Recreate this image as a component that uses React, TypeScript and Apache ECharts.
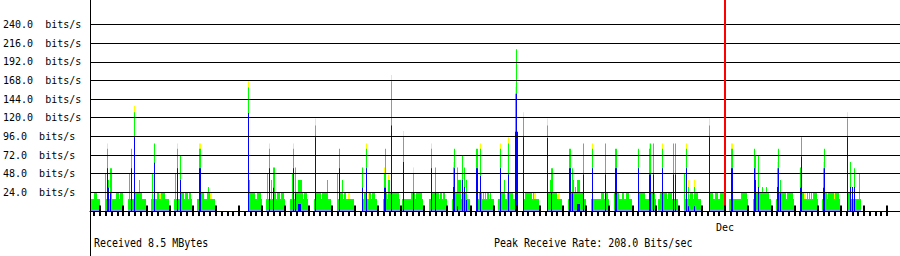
import React, { useEffect, useRef } from 'react';
import * as echarts from 'echarts';

// One sample per pixel column (RRD-style consolidation); sample index runs left to right.
const SAMPLES = 810;
const LOW = 15.4;   // typical low-level receive rate (bits/s)
const HIGH = 23.1;  // typical high-level receive rate (bits/s)
const BASE = 1.3;   // small constant component under active periods

// Periods of low-level activity [fromSample, toSample]
const lowBlocks: [number, number][] = [
  [1, 9], [15, 32], [38, 55], [61, 78], [84, 101], [107, 124], [158, 171], [176, 194],
  [200, 217], [224, 240], [247, 263], [272, 286], [293, 309], [312, 332], [339, 356],
  [362, 379], [386, 403], [408, 426], [434, 448], [457, 471], [478, 495], [501, 518],
  [524, 541], [548, 565], [568, 587], [594, 610], [620, 633], [639, 657], [663, 680],
  [686, 703], [710, 727], [732, 749], [757, 770],
];

// Periods where the rate reaches the high level
const highBlocks: [number, number][] = [
  [4, 6], [26, 28], [30, 32], [45, 51], [67, 68], [71, 74], [91, 93], [95, 97], [99, 100],
  [110, 113], [117, 119], [159, 164], [167, 170], [183, 185], [187, 189], [191, 193],
  [206, 208], [210, 212], [214, 216], [226, 230], [232, 236], [250, 252], [254, 255],
  [274, 276], [279, 280], [282, 284], [294, 296], [300, 308], [321, 324], [326, 331],
  [342, 344], [346, 348], [350, 351], [353, 354], [365, 370], [373, 376], [389, 391],
  [393, 393], [395, 395], [397, 398], [400, 400], [410, 414], [417, 422], [435, 441],
  [443, 443], [458, 466], [479, 486], [489, 493], [511, 513], [515, 517], [524, 528],
  [532, 533], [536, 538], [548, 554], [560, 564], [570, 576], [578, 581], [600, 602],
  [605, 607], [620, 622], [625, 627], [630, 633], [651, 656], [664, 678], [688, 695],
  [697, 702], [711, 713], [717, 717], [719, 719], [721, 721], [723, 726], [733, 736],
  [738, 743], [745, 748], [757, 759],
];

// Short peaks (yellow) reaching the high level above low activity
const yellowCaps: [number, number][] = [
  [4, 5], [69, 70], [120, 121], [258, 259], [278, 278], [444, 445], [468, 469],
  [652, 652], [714, 715], [737, 737], [744, 744],
];

// Spikes: [sample, blue top, green top, yellow top] in bits/s (0 = none)
const spikes: [number, number, number, number][] = [
  [15, 0, 48, 0], [17, 55, 80, 87], [18, 30, 40, 0], [20, 23, 55, 0], [21, 0, 55, 0],
  [39, 0, 48, 0], [41, 55, 80, 0], [44, 95, 127, 135], [49, 0, 40, 0],
  [62, 0, 48, 0], [64, 62, 87, 0],
  [85, 0, 48, 0], [87, 55, 80, 87], [90, 40, 71, 0],
  [109, 55, 80, 87], [110, 55, 80, 87], [118, 0, 31, 0],
  [158, 126, 159, 167], [159, 0, 40, 0],
  [177, 0, 48, 0], [179, 55, 80, 87], [181, 0, 40, 0], [183, 30, 56, 0], [184, 0, 56, 0],
  [202, 0, 48, 0], [203, 55, 80, 87], [205, 23, 56, 0], [208, 9, 40, 0], [209, 9, 40, 0],
  [210, 9, 40, 0], [211, 0, 40, 0],
  [225, 95, 110, 119], [237, 0, 40, 0],
  [247, 0, 48, 0], [249, 55, 80, 0], [252, 0, 40, 0],
  [272, 30, 56, 0], [276, 55, 80, 87],
  [294, 30, 48, 56], [295, 30, 80, 0], [298, 0, 40, 47], [299, 0, 40, 0], [301, 110, 167, 175],
  [313, 63, 95, 103], [323, 23, 48, 56],
  [341, 55, 80, 87], [345, 23, 56, 0],
  [363, 31, 56, 63], [364, 55, 80, 0], [367, 6, 56, 0], [368, 0, 40, 0], [369, 0, 40, 0],
  [370, 0, 40, 0], [372, 40, 71, 0], [374, 31, 56, 0], [376, 14, 40, 0],
  [386, 55, 80, 0], [387, 55, 80, 0], [390, 45, 80, 87],
  [410, 55, 80, 87], [414, 0, 40, 0], [418, 47, 87, 95], [425, 102, 151, 160],
  [426, 151, 208, 0], [427, 102, 0, 0], [433, 95, 121, 127],
  [457, 94, 110, 119], [460, 0, 40, 0], [461, 23, 55, 0], [462, 0, 55, 0],
  [479, 55, 80, 0], [480, 55, 80, 0], [482, 23, 55, 0], [483, 0, 40, 0], [485, 0, 31, 0],
  [487, 9, 40, 0], [488, 9, 40, 0], [489, 9, 40, 0], [493, 47, 87, 0],
  [502, 55, 80, 87], [515, 47, 87, 0],
  [525, 55, 80, 0], [526, 55, 80, 0],
  [548, 55, 80, 0], [559, 47, 80, 87], [560, 47, 87, 0], [563, 47, 87, 0],
  [572, 55, 80, 87], [583, 47, 87, 0], [585, 47, 87, 0],
  [594, 0, 48, 0], [596, 55, 80, 87], [598, 6, 31, 40], [604, 6, 31, 40],
  [619, 95, 110, 119],
  [641, 55, 80, 87], [642, 55, 80, 87],
  [664, 55, 80, 0], [665, 40, 71, 0], [668, 31, 71, 0], [672, 0, 31, 0], [676, 0, 31, 0],
  [687, 31, 55, 63], [688, 55, 80, 0], [690, 23, 40, 0],
  [710, 30, 56, 0], [711, 70, 95, 0],
  [733, 30, 55, 63], [734, 55, 80, 0],
  [757, 95, 119, 127], [760, 31, 63, 0], [762, 31, 0, 0], [764, 31, 55, 0], [769, 0, 48, 0],
];

const yTicks = [24, 48, 72, 96, 120, 144, 168, 192, 216, 240];
const monthStarts = [{ day: 27, label: 'Dec' }];

const FIRST_MIDNIGHT = 9.5;     // sample position of the first day boundary
const SAMPLES_PER_DAY = 23.147;
const DAYS = 34;
const Y_MAX = 271.5;

function buildSeriesData() {
  const yellow: (number | null)[] = new Array(SAMPLES).fill(null);
  const green: (number | null)[] = new Array(SAMPLES).fill(null);
  const lav: (number | null)[] = new Array(SAMPLES).fill(null);
  const blue: (number | null)[] = new Array(SAMPLES).fill(null);
  for (const [a, b] of lowBlocks) for (let i = a; i <= b; i++) { green[i] = LOW; lav[i] = BASE; }
  for (const [a, b] of highBlocks) for (let i = a; i <= b; i++) green[i] = HIGH;
  for (const [a, b] of yellowCaps) for (let i = a; i <= b; i++) yellow[i] = HIGH;
  for (const [i, bl, gr, ye] of spikes) {
    if (bl) blue[i] = bl;
    if (gr) green[i] = Math.max(green[i] || 0, gr);
    if (ye) yellow[i] = Math.max(yellow[i] || 0, ye);
  }
  const toPairs = (arr: (number | null)[]) => {
    const out: [number, number][] = [];
    arr.forEach((v, i) => { if (v != null) out.push([i, v]); });
    return out;
  };
  return { yellow: toPairs(yellow), green: toPairs(green), lav: toPairs(lav), blue: toPairs(blue) };
}

const FONT = 'DejaVu Sans Mono';

export default function App() {
  const ref = useRef<HTMLDivElement>(null);
  useEffect(() => {
    if (!ref.current) return;
    const chart = echarts.init(ref.current, undefined, { renderer: 'svg' });
    const d = buildSeriesData();
    const sixHourTicks: number[] = [];
    for (let k = -1; k <= DAYS * 4; k++) {
      const v = FIRST_MIDNIGHT + (k * SAMPLES_PER_DAY) / 4;
      if (v >= -0.5 && v <= SAMPLES - 0.5) sixHourTicks.push(v);
    }
    const dayTicks: number[] = [];
    for (let k = 0; k <= DAYS; k++) dayTicks.push(FIRST_MIDNIGHT + k * SAMPLES_PER_DAY);
    const monthPos = monthStarts.map((m) => FIRST_MIDNIGHT + m.day * SAMPLES_PER_DAY);

    const barBase = {
      type: 'bar' as const,
      barWidth: 1,
      barGap: '-100%',
      silent: true,
      animation: false,
    };

    chart.setOption({
      animation: false,
      backgroundColor: '#ffffff',
      grid: { left: 90, right: 0, top: 0, height: 211 },
      xAxis: [
        {
          type: 'value', min: -0.5, max: SAMPLES - 0.5, position: 'bottom',
          axisLine: { show: true, onZero: false, lineStyle: { color: '#000', width: 1 } },
          axisTick: { show: true, customValues: sixHourTicks, inside: false, length: 5, lineStyle: { color: '#000', width: 2 } },
          axisLabel: { show: false },
          splitLine: { show: false },
        },
        {
          type: 'value', min: -0.5, max: SAMPLES - 0.5, position: 'bottom', z: 10,
          axisLine: { show: false, onZero: false },
          axisTick: { show: true, customValues: dayTicks, inside: true, length: 5.5, lineStyle: { color: '#000', width: 2 } },
          axisLabel: {
            show: true, customValues: monthPos, margin: 11, color: '#000',
            fontFamily: FONT, fontSize: 10,
            formatter: (v: number) => {
              const idx = monthPos.findIndex((p) => Math.abs(p - v) < 0.01);
              return idx >= 0 ? monthStarts[idx].label : '';
            },
          },
          splitLine: { show: false },
        },
      ],
      yAxis: {
        type: 'value', min: 0, max: Y_MAX,
        axisLine: { show: true, lineStyle: { color: '#000', width: 1 } },
        axisTick: { show: false },
        splitLine: { show: false },
        axisLabel: {
          show: true, customValues: yTicks, align: 'left', margin: 87, color: '#000',
          fontFamily: FONT, fontSize: 10,
          formatter: (v: number) => v.toFixed(1) + '  bits/s',
        },
      },
      series: [
        { ...barBase, name: 'peak', data: d.yellow, itemStyle: { color: '#ffff00' } },
        { ...barBase, name: 'in', data: d.green, itemStyle: { color: '#00ff00' } },
        { ...barBase, name: 'base', data: d.lav, itemStyle: { color: '#8c8cff' } },
        {
          ...barBase, name: 'out', data: d.blue, itemStyle: { color: '#0000ff' },
          markLine: {
            silent: true, symbol: ['none', 'none'], animation: false,
            label: { show: false },
            data: [
              ...yTicks.map((v) => ({ yAxis: v, lineStyle: { color: '#000', width: 1, type: 'solid' as const } })),
              ...monthPos.map((p) => ({ xAxis: p, lineStyle: { color: '#ff0000', width: 2, type: 'solid' as const } })),
            ],
          },
        },
      ],
      graphic: [
        { type: 'line', shape: { x1: 90.5, y1: 211, x2: 90.5, y2: 256 }, style: { stroke: '#000', lineWidth: 1 } },
        {
          type: 'text', x: 94, y: 243, scaleY: 1.2,
          style: { text: 'Received 8.5 MBytes', font: `10px "${FONT}"`, fill: '#000', textVerticalAlign: 'middle' },
        },
        {
          type: 'text', x: 494, y: 243, scaleY: 1.2,
          style: { text: 'Peak Receive Rate: 208.0 Bits/sec', font: `10px "${FONT}"`, fill: '#000', textVerticalAlign: 'middle' },
        },
      ],
    });
    return () => chart.dispose();
  }, []);
  return <div ref={ref} style={{ position: 'fixed', left: 0, top: 0, width: 900, height: 256 }} />;
}
